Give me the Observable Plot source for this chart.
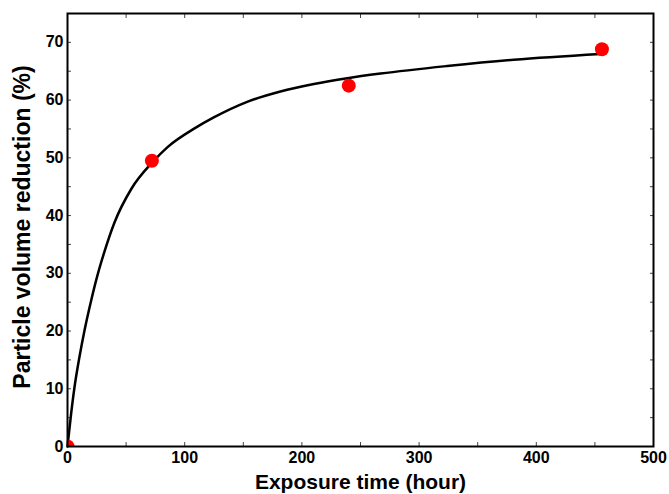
<!DOCTYPE html>
<html><head><meta charset="utf-8">
<script src="https://cdn.jsdelivr.net/npm/d3@7"></script>
<script src="https://cdn.jsdelivr.net/npm/@observablehq/plot@0.6"></script>
<style>body{margin:0;background:#fff} #chart svg{font-family:"Liberation Sans",Arial,sans-serif;}</style>
</head><body><div id="chart"></div>
<script>
const pointHours = [0, 72, 240, 456];
const pointReduction = [0, 49.5, 62.5, 68.8];
const curveHours = [0, 3.1, 6.0, 10.2, 14.5, 20.2, 25.9, 31.0, 40.1, 54.4, 72.8, 85.6, 108.4, 124.8, 153.3, 181.7, 210.2, 238.7, 267.1, 324, 380.8, 454.8];
const curveReduction = [0, 5.7, 10.3, 15.5, 20.1, 25.3, 29.9, 33.4, 38.8, 44.6, 49.3, 51.9, 55.1, 57.0, 59.7, 61.5, 62.8, 63.8, 64.6, 65.9, 67.0, 68.0];
const xTickLabels = [0, 100, 200, 300, 400, 500];
const xMinorTicks = [0, 50, 100, 150, 200, 250, 300, 350, 400, 450, 500];
const yTickLabels = [0, 10, 20, 30, 40, 50, 60, 70];
const yMinorTicks = [0, 5, 10, 15, 20, 25, 30, 35, 40, 45, 50, 55, 60, 65, 70, 75];
const xTitle = "Exposure time (hour)";
const yTitle = "Particle volume reduction (%)";

const points = pointHours.map((h, i) => ({h, r: pointReduction[i]}));
const curve = curveHours.map((h, i) => ({h, r: curveReduction[i]}));
const blank = () => "";

const chart = Plot.plot({
  width: 669, height: 494,
  marginLeft: 67, marginRight: 16, marginTop: 13, marginBottom: 48,
  x: {domain: [0, 500]},
  y: {domain: [0, 75]},
  style: {fontFamily: '"Liberation Sans", Arial, sans-serif', color: "black", background: "white"},
  marks: [
    Plot.axisX(xMinorTicks, {anchor: "bottom", tickSize: -4, tickFormat: blank, label: null, stroke: "#444"}),
    Plot.axisX(xMinorTicks, {anchor: "top", tickSize: -4, tickFormat: blank, label: null, stroke: "#444"}),
    Plot.axisY(yMinorTicks, {anchor: "left", tickSize: -4, tickFormat: blank, label: null, stroke: "#444"}),
    Plot.axisY(yMinorTicks, {anchor: "right", tickSize: -4, tickFormat: blank, label: null, stroke: "#444"}),
    Plot.axisX(xTickLabels, {anchor: "bottom", tickSize: 0, tickPadding: 5, fontSize: 16, fontWeight: "bold", fill: "black", label: null}),
    Plot.axisY(yTickLabels, {anchor: "left", tickSize: 0, tickPadding: 4, fontSize: 16, fontWeight: "bold", fill: "black", label: null}),
    Plot.text([xTitle], {frameAnchor: "bottom", dy: 42, fontSize: 21, fontWeight: "bold", fill: "black"}),
    Plot.text([yTitle], {frameAnchor: "left", dx: -45, dy: -3, rotate: -90, textAnchor: "middle", fontSize: 23, fontWeight: "bold", fill: "black"}),
    Plot.line(curve, {x: "h", y: "r", stroke: "black", strokeWidth: 2.5, curve: "monotone-x"}),
    Plot.dot(points, {x: "h", y: "r", r: 7, fill: "#ff0000", stroke: "none", clip: true}),
    Plot.frame({stroke: "black", strokeWidth: 2})
  ]
});
document.getElementById("chart").append(chart);
</script>
</body></html>
